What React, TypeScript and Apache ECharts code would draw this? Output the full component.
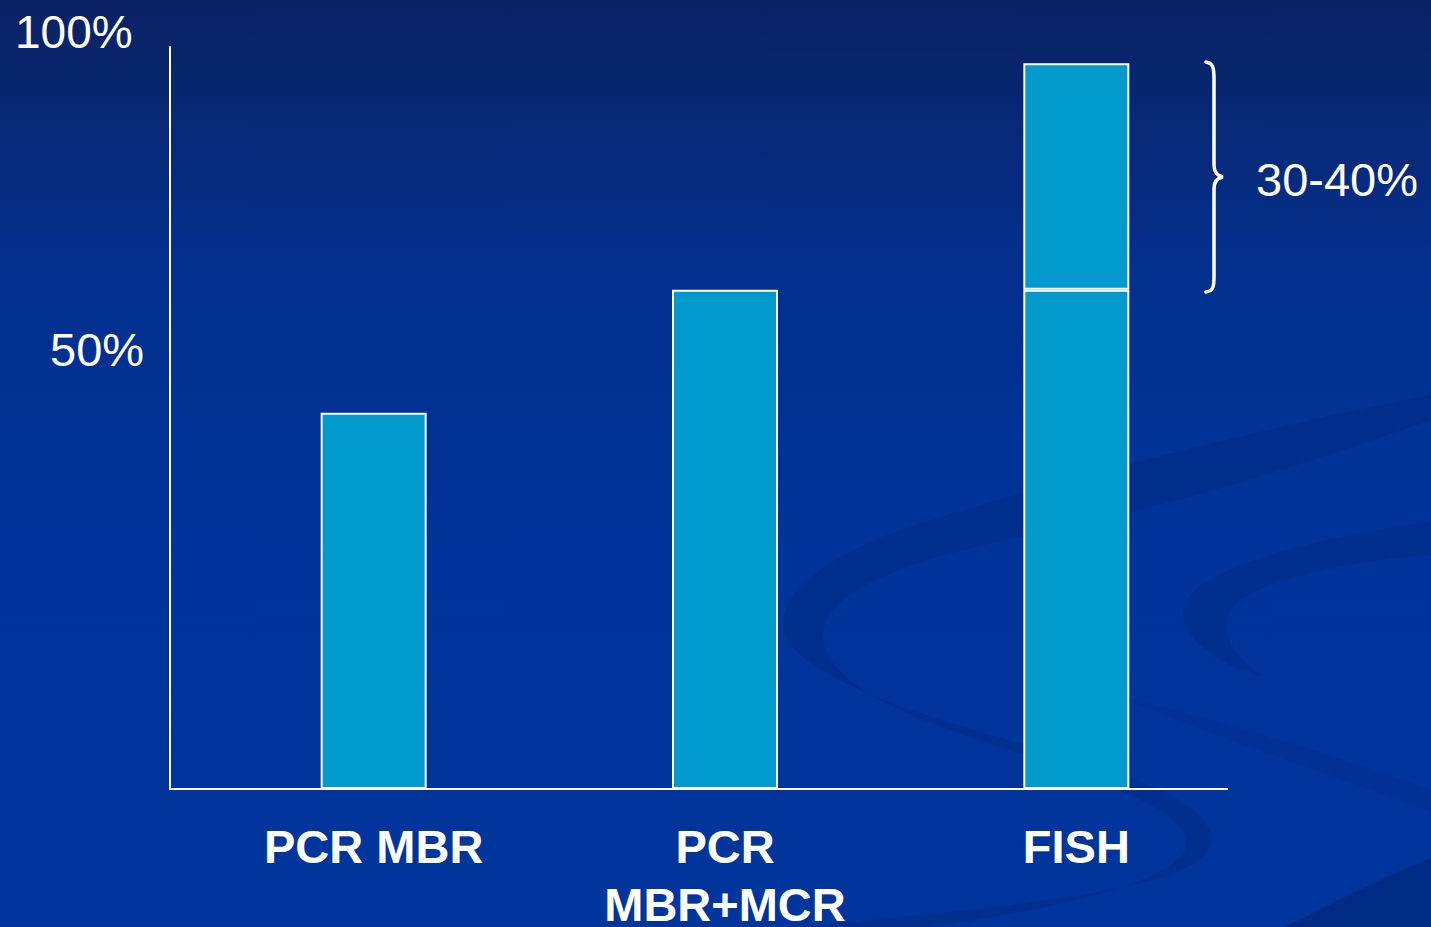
import React, { useEffect, useRef } from "react";
import * as echarts from "echarts";

const categories = ["PCR MBR", "PCR\nMBR+MCR", "FISH"];
const baseValues = [50.7, 67.3, 67.3];
const upperValues: (number | null)[] = [null, null, 30.5];
const yTickLabels = ["100%", "50%"];
const braceLabel = "30-40%";

const FONT = "'Liberation Sans', Arial, sans-serif";
const BAR = "#009acc";

const BRACE =
  "M 1206 62 C 1213 63, 1214 68, 1214 78 L 1214 165 C 1214 172, 1217 176, 1223 177 C 1217 178, 1214 182, 1214 189 L 1214 277 C 1214 287, 1213 291, 1206 292";
const SWIRL1 =
  "M 1431 395 C 1250 430, 1020 490, 900 530 C 790 570, 760 620, 800 655 C 860 705, 1000 735, 1110 770 C 1200 800, 1225 830, 1205 855 C 1170 890, 1030 905, 800 927 L 930 927 C 1080 905, 1170 880, 1185 850 C 1195 820, 1140 795, 1040 760 C 930 725, 840 695, 824 645 C 815 600, 880 565, 1030 535 C 1200 500, 1330 455, 1431 420 Z";
const SWIRL2 =
  "M 1431 522 C 1330 535, 1230 560, 1195 590 C 1170 615, 1185 645, 1240 670 L 1262 676 C 1225 650, 1215 620, 1240 600 C 1280 575, 1360 560, 1431 555 Z";
const SWIRL3 =
  "M 1100 690 C 1250 730, 1350 760, 1431 790 L 1431 812 C 1340 778, 1230 742, 1100 690 Z";
const SWIRL4 = "M 1431 858 C 1380 878, 1330 905, 1285 927 L 1431 927 Z";

let registered = false;
function registerShapes() {
  if (registered) return;
  registered = true;
  echarts.graphic.registerShape("brace", echarts.graphic.extendPath(BRACE, {}));
  echarts.graphic.registerShape("swirl1", echarts.graphic.extendPath(SWIRL1, {}));
  echarts.graphic.registerShape("swirl2", echarts.graphic.extendPath(SWIRL2, {}));
  echarts.graphic.registerShape("swirl3", echarts.graphic.extendPath(SWIRL3, {}));
  echarts.graphic.registerShape("swirl4", echarts.graphic.extendPath(SWIRL4, {}));
}

export default function App() {
  const ref = useRef<HTMLDivElement>(null);
  useEffect(() => {
    if (!ref.current) return;
    registerShapes();
    const chart = echarts.init(ref.current, undefined, { renderer: "svg" });
    const swirlStyle = { fill: "#00257a", opacity: 0.35 };
    chart.setOption({
      animation: false,
      backgroundColor: "transparent",
      grid: {
        left: 198,
        width: 1054,
        top: 47,
        height: 742,
        containLabel: false,
        outerBoundsMode: "none",
      },
      xAxis: {
        type: "category",
        data: categories,
        axisLine: { show: false },
        axisTick: { show: false },
        axisLabel: {
          color: "#ffffff",
          fontFamily: FONT,
          fontWeight: "bold",
          fontSize: 47,
          lineHeight: 58,
          margin: 28,
          interval: 0,
        },
      },
      yAxis: {
        type: "value",
        min: 0,
        max: 100,
        offset: 28,
        axisLine: { show: true, lineStyle: { color: "#ffffff", width: 2 } },
        axisTick: { show: false },
        axisLabel: { show: false },
        splitLine: { show: false },
      },
      series: [
        {
          type: "bar",
          stack: "total",
          data: baseValues,
          barWidth: 106,
          itemStyle: { color: BAR, borderColor: "#ffffff", borderWidth: 2 },
          z: 3,
        },
        {
          type: "bar",
          stack: "total",
          data: upperValues,
          barWidth: 106,
          itemStyle: { color: BAR, borderColor: "#ffffff", borderWidth: 2 },
          z: 3,
        },
      ],
      graphic: [
        { type: "swirl1", x: 0, y: 0, silent: true, z: -10, style: swirlStyle },
        { type: "swirl2", x: 0, y: 0, silent: true, z: -10, style: swirlStyle },
        { type: "swirl3", x: 0, y: 0, silent: true, z: -10, style: { fill: "#00257a", opacity: 0.2 } },
        { type: "swirl4", x: 0, y: 0, silent: true, z: -10, style: { fill: "#00226e", opacity: 0.5 } },
        {
          type: "line",
          silent: true,
          z: 5,
          shape: { x1: 170, y1: 789, x2: 1228, y2: 789 },
          style: { stroke: "#ffffff", lineWidth: 2 },
        },
        {
          type: "text",
          x: 15,
          y: 32,
          z: 5,
          style: {
            text: yTickLabels[0],
            fill: "#ffffff",
            font: `46px ${FONT}`,
            align: "left",
            verticalAlign: "middle",
          },
        },
        {
          type: "text",
          x: 50,
          y: 349,
          z: 5,
          style: {
            text: yTickLabels[1],
            fill: "#ffffff",
            font: `47px ${FONT}`,
            align: "left",
            verticalAlign: "middle",
          },
        },
        {
          type: "brace",
          x: 0,
          y: 0,
          z: 5,
          silent: true,
          style: { fill: "none", stroke: "#ffffff", lineWidth: 3.5, lineCap: "round" },
        },
        {
          type: "text",
          x: 1256,
          y: 179,
          z: 5,
          style: {
            text: braceLabel,
            fill: "#ffffff",
            font: `47px ${FONT}`,
            align: "left",
            verticalAlign: "middle",
          },
        },
      ],
    });
    return () => chart.dispose();
  }, []);
  return (
    <div
      ref={ref}
      style={{
        position: "fixed",
        left: 0,
        top: 0,
        width: 1431,
        height: 927,
        background:
          "linear-gradient(to bottom, #0a2262 0%, #03308f 30%, #00349a 60%, #00359c 100%)",
      }}
    />
  );
}
